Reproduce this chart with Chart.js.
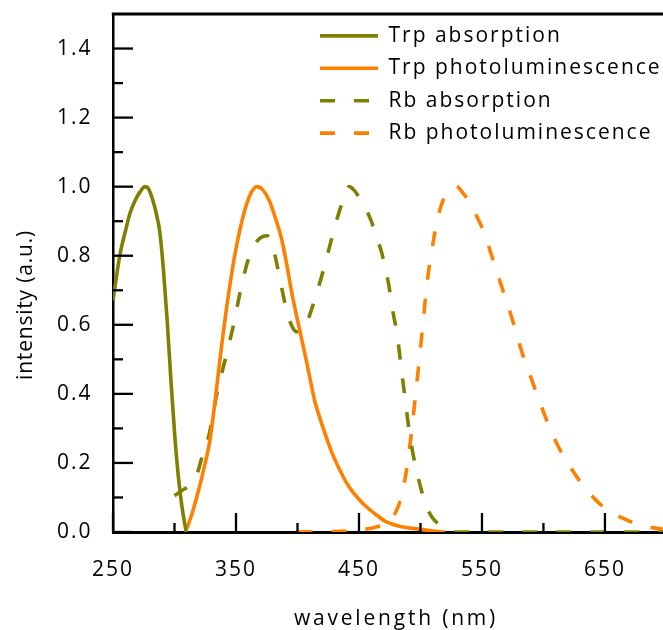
<!DOCTYPE html>
<html>
<head>
<meta charset="utf-8">
<script src="https://cdn.jsdelivr.net/npm/chart.js@4/dist/chart.umd.min.js"></script>
<style>
html,body{margin:0;padding:0;background:#fff;overflow:hidden}
canvas{display:block}
</style>
</head>
<body>
<canvas id="c" width="663" height="630"></canvas>
<script>
// ---- data ----
const seriesNames = ['Trp absorption', 'Trp photoluminescence', 'Rb absorption', 'Rb photoluminescence'];

const trpAbsX = [250, 252, 256, 260, 264, 268, 272, 276, 279, 282, 285, 288, 291, 294, 297, 300, 303, 306, 309.5];
const trpAbsY = [0.67, 0.72, 0.81, 0.87, 0.925, 0.96, 0.985, 1.0, 0.993, 0.965, 0.925, 0.87, 0.76, 0.615, 0.445, 0.29, 0.165, 0.075, 0.0];

const trpPlX = [310, 314, 318, 323, 329, 334, 338, 344, 350, 357, 362, 367, 372, 377, 382, 387, 391, 395, 399, 403, 407, 411, 414, 421, 428, 435, 442, 450, 456, 464, 472, 485, 497, 510, 520];
const trpPlY = [0.01, 0.05, 0.10, 0.17, 0.27, 0.41, 0.53, 0.69, 0.82, 0.93, 0.98, 1.0, 0.99, 0.96, 0.91, 0.85, 0.78, 0.70, 0.63, 0.565, 0.50, 0.43, 0.38, 0.30, 0.23, 0.175, 0.13, 0.095, 0.073, 0.05, 0.03, 0.015, 0.009, 0.003, 0.0];

const rbAbsX = [300, 306, 312, 318, 323, 328, 335, 342, 348, 354, 360, 365, 370, 375, 379, 383, 387, 391, 395, 399, 403, 407, 411, 415, 420, 426, 432, 437, 442, 446, 450, 455, 460, 464, 468, 471, 474, 476, 478, 481, 484, 487, 490, 493, 496, 499, 502, 506, 510, 514, 518, 523, 530, 560, 600, 650, 697];
const rbAbsY = [0.105, 0.12, 0.135, 0.165, 0.225, 0.28, 0.41, 0.51, 0.60, 0.705, 0.79, 0.832, 0.852, 0.858, 0.84, 0.78, 0.71, 0.645, 0.60, 0.58, 0.58, 0.60, 0.64, 0.685, 0.745, 0.825, 0.905, 0.96, 1.0, 0.99, 0.97, 0.94, 0.90, 0.856, 0.815, 0.77, 0.72, 0.675, 0.63, 0.575, 0.485, 0.40, 0.315, 0.245, 0.19, 0.145, 0.105, 0.065, 0.04, 0.025, 0.013, 0.004, 0.0, 0.0, 0.0, 0.0, 0.0];

const rbPlX = [400, 420, 440, 455, 465, 475, 478, 482, 485, 488, 491, 494, 497, 499.6, 502.3, 505, 509, 513.7, 518.5, 523, 529, 535, 541.6, 547, 552.4, 557, 562, 567, 571.4, 576.8, 583.6, 589, 595.8, 603, 610.7, 621.5, 635, 648.6, 667.6, 686.6, 697];
const rbPlY = [0.0, 0.001, 0.003, 0.008, 0.015, 0.03, 0.045, 0.075, 0.11, 0.165, 0.24, 0.33, 0.43, 0.518, 0.614, 0.71, 0.81, 0.904, 0.962, 0.99, 1.0, 0.98, 0.943, 0.905, 0.861, 0.81, 0.755, 0.70, 0.653, 0.59, 0.508, 0.455, 0.388, 0.32, 0.257, 0.19, 0.122, 0.073, 0.035, 0.014, 0.008];

const xTickValues = [250, 350, 450, 550, 650];
const xMinorTickValues = [300, 400, 500, 600];
const yTickValues = [0.0, 0.2, 0.4, 0.6, 0.8, 1.0, 1.2, 1.4];
const yMinorTickValues = [0.1, 0.3, 0.5, 0.7, 0.9, 1.1, 1.3];
const xTitle = 'wavelength (nm)';
const yTitle = 'intensity (a.u.)';

// ---- styling ----
const OLIVE = '#808000';
const ORANGE = '#FF8000';
const FONT = '"Open Sans", "DejaVu Sans", sans-serif';
const LW = 3.6;
const DASH = [15, 19];

function pts(xs, ys) { return xs.map((x, i) => ({ x: x, y: ys[i] })); }

const decor = {
  id: 'decor',
  afterLayout(chart) {
    const lg = chart.legend;
    const a = chart.chartArea;
    if (lg) {
      const dx = 308.6 - lg.left;
      lg.left += dx; lg.right += dx;
      const dy = a.top - lg.top;
      lg.top += dy; lg.bottom += dy;
    }
  },
  beforeDraw(chart) {
    chart.ctx.letterSpacing = '2px';
  },
  afterDatasetsDraw(chart) {
    const { ctx, chartArea: a, scales: { x, y } } = chart;
    ctx.save();
    ctx.strokeStyle = '#000';
    ctx.lineCap = 'butt';
    const ln = (x1, y1, x2, y2) => { ctx.beginPath(); ctx.moveTo(x1, y1); ctx.lineTo(x2, y2); ctx.stroke(); };
    ctx.lineWidth = 2.3;
    yTickValues.forEach(v => { const p = y.getPixelForValue(v); ln(a.left, p, a.left + 20, p); });
    yMinorTickValues.forEach(v => { const p = y.getPixelForValue(v); ln(a.left, p, a.left + 10, p); });
    xTickValues.forEach(v => { const p = x.getPixelForValue(v); ln(p, a.bottom, p, a.bottom - 19); });
    xMinorTickValues.forEach(v => { const p = x.getPixelForValue(v); ln(p, a.bottom, p, a.bottom - 9); });
    ctx.lineWidth = 3;
    ln(a.left - 1.2, a.top, a.right, a.top);
    ctx.restore();
  },
  afterDraw(chart) {
    const ctx = chart.ctx;
    ctx.save();
    ctx.fillStyle = '#000';
    ctx.font = '21px ' + FONT;
    ctx.textBaseline = 'alphabetic';
    ctx.textAlign = 'center';
    ctx.letterSpacing = '2.8px';
    ctx.fillText(xTitle, 396, 625);
    ctx.letterSpacing = '0.8px';
    ctx.translate(32, 305);
    ctx.rotate(-Math.PI / 2);
    ctx.fillText(yTitle, 0, 0);
    ctx.restore();
  }
};

new Chart(document.getElementById('c'), {
  type: 'line',
  data: {
    datasets: [
      { label: seriesNames[0], data: pts(trpAbsX, trpAbsY), borderColor: OLIVE, backgroundColor: OLIVE, borderWidth: LW },
      { label: seriesNames[1], data: pts(trpPlX, trpPlY), borderColor: ORANGE, backgroundColor: ORANGE, borderWidth: LW },
      { label: seriesNames[2], data: pts(rbAbsX, rbAbsY), borderColor: OLIVE, backgroundColor: OLIVE, borderWidth: LW, borderDash: DASH },
      { label: seriesNames[3], data: pts(rbPlX, rbPlY), borderColor: ORANGE, backgroundColor: ORANGE, borderWidth: LW, borderDash: DASH }
    ]
  },
  options: {
    responsive: false,
    animation: false,
    devicePixelRatio: 1,
    layout: { padding: { top: 14, left: 0, right: 0, bottom: 0 } },
    elements: {
      point: { radius: 0, hoverRadius: 0 },
      line: { cubicInterpolationMode: 'monotone', fill: false, borderCapStyle: 'butt' }
    },
    scales: {
      x: {
        type: 'linear',
        min: 250,
        max: 697.2,
        afterFit: s => { s.height = 98; s.paddingLeft = 0; s.paddingRight = 0; },
        afterBuildTicks: s => { s.ticks = xTickValues.map(v => ({ value: v })); },
        grid: { display: false },
        border: { display: true, color: '#000', width: 3 },
        ticks: { color: '#000', font: { family: FONT, size: 21 }, padding: 17, maxRotation: 0, autoSkip: false, callback: v => String(v) }
      },
      y: {
        type: 'linear',
        min: 0,
        max: 1.5,
        afterFit: s => { s.width = 113; s.paddingTop = 0; s.paddingBottom = 0; },
        afterBuildTicks: s => { s.ticks = yTickValues.map(v => ({ value: v })); },
        grid: { display: false },
        border: { display: true, color: '#000', width: 2.5 },
        ticks: { color: '#000', font: { family: FONT, size: 21 }, padding: 12.5, autoSkip: false, callback: v => Number(v).toFixed(1) }
      }
    },
    plugins: {
      legend: {
        position: 'chartArea',
        align: 'start',
        labels: {
          usePointStyle: true,
          pointStyle: 'line',
          pointStyleWidth: 58,
          color: '#000',
          font: { family: FONT, size: 21 },
          padding: 11.4,
          generateLabels: chart => chart.data.datasets.map((d, i) => ({
            text: d.label,
            fillStyle: 'rgba(0,0,0,0)',
            strokeStyle: d.borderColor,
            fontColor: '#000',
            lineWidth: LW,
            lineDash: d.borderDash || [],
            lineCap: 'butt',
            pointStyle: 'line',
            hidden: false,
            datasetIndex: i
          }))
        }
      },
      tooltip: { enabled: false }
    }
  },
  plugins: [decor]
});
</script>
</body>
</html>
